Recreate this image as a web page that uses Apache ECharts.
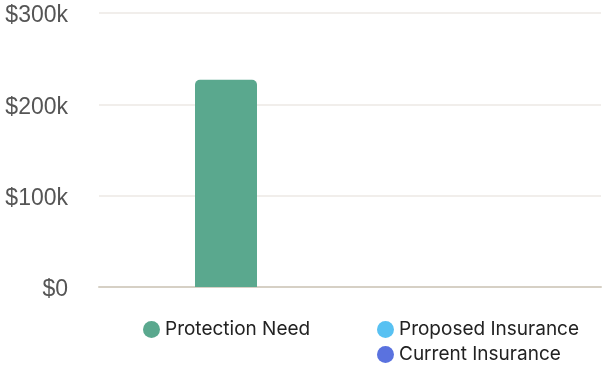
<!DOCTYPE html>
<html>
<head>
<meta charset="utf-8">
<script src="https://cdn.jsdelivr.net/npm/echarts@6/dist/echarts.min.js"></script>
<style>
  html, body { margin: 0; padding: 0; background: #ffffff; }
  #chart { width: 603px; height: 365px; }
</style>
</head>
<body>
<div id="chart"></div>
<script>
// Coverage comparison data
const categories = ['Coverage'];
const protectionNeed = [227000];
const proposedInsurance = [0];
const currentInsurance = [0];
const yTicks = [0, 100000, 200000, 300000];

const chart = echarts.init(document.getElementById('chart'));

function money(v) {
  return '{t|' + (v === 0 ? '$0' : '$' + Math.round(v / 1000) + 'k') + '}';
}

const legendText = { fontFamily: 'Inter', fontSize: 19, color: '#222222' };
function legendAt(name, left, top) {
  return {
    left: left, top: top, itemWidth: 17, itemHeight: 17, icon: 'circle',
    textStyle: legendText, data: [name]
  };
}

chart.setOption({
  animation: false,
  grid: { left: 99, right: 2, top: 13, bottom: 78, containLabel: false },
  legend: [
    legendAt('Protection Need', 138, 315),
    legendAt('Proposed Insurance', 372, 315),
    legendAt('Current Insurance', 372, 340)
  ],
  xAxis: {
    type: 'category',
    data: categories,
    axisLine: { show: true, lineStyle: { color: '#d6d0c5', width: 2 } },
    axisTick: { show: false },
    axisLabel: { show: false }
  },
  yAxis: {
    type: 'value',
    min: yTicks[0],
    max: yTicks[yTicks.length - 1],
    interval: yTicks[1] - yTicks[0],
    axisLine: { show: false },
    axisTick: { show: false },
    splitLine: { lineStyle: { color: '#ece8e4', width: 1.5 } },
    axisLabel: {
      margin: 31,
      formatter: money,
      rich: {
        t: {
          fontFamily: 'Liberation Sans',
          fontSize: 23,
          color: '#555555',
          padding: [6, 0, 0, 0]
        }
      }
    }
  },
  series: [
    {
      name: 'Protection Need', type: 'bar', barWidth: 62, barGap: '100%',
      data: protectionNeed,
      itemStyle: { color: '#5aa88e', borderRadius: [5, 5, 0, 0] }
    },
    {
      name: 'Proposed Insurance', type: 'bar', barWidth: 62, barGap: '100%',
      data: proposedInsurance,
      itemStyle: { color: '#58c1f2', borderRadius: [5, 5, 0, 0] }
    },
    {
      name: 'Current Insurance', type: 'bar', barWidth: 62, barGap: '100%',
      data: currentInsurance,
      itemStyle: { color: '#5a72df', borderRadius: [5, 5, 0, 0] }
    }
  ]
});
</script>
</body>
</html>
